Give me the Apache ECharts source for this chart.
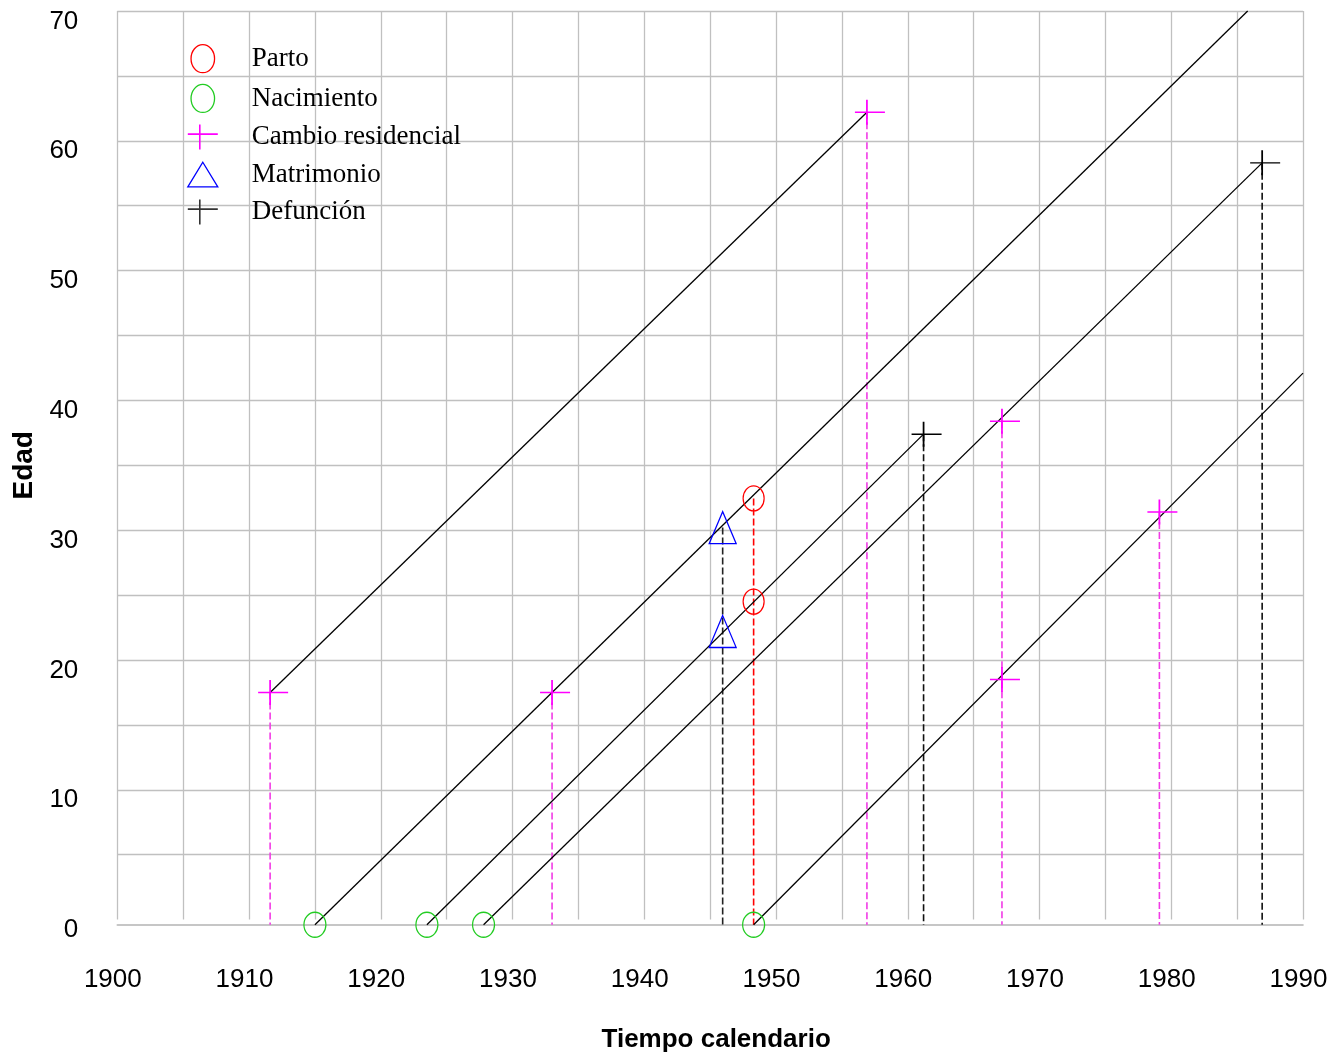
<!DOCTYPE html>
<html>
<head>
<meta charset="utf-8">
<script src="https://cdn.jsdelivr.net/npm/echarts@6/dist/echarts.min.js"></script>
<style>
html,body{margin:0;padding:0;background:#fff;}
#c{width:1332px;height:1057px;}
</style>
</head>
<body>
<div id="c"></div>
<script>
// ---- data ----
const xTickLabels = [1900, 1910, 1920, 1930, 1940, 1950, 1960, 1970, 1980, 1990];
const yTickLabels = [0, 10, 20, 30, 40, 50, 60, 70];
const birthAge = -0.4;              // births sit on the drawn time axis
// life lines: [start year, start age, end year, end age]
const lifelines = [
  [1911.6, 17.5, 1956.9, 62.2],
  [1915.0, birthAge, 1985.8, 70],
  [1923.5, birthAge, 1961.2, 37.4],
  [1927.8, birthAge, 1986.9, 58.3],
  [1948.3, birthAge, 1990.0, 42.1]
];
const parto      = [[1948.3, 32.45], [1948.3, 24.5]];
const nacimiento = [[1915.0, birthAge], [1923.5, birthAge], [1927.8, birthAge], [1948.3, birthAge]];
const cambio     = [[1911.6, 17.5], [1933.0, 17.5], [1956.9, 62.2], [1967.15, 38.4], [1967.15, 18.5], [1979.1, 31.4]];
const matrimonio = [[1945.95, 30.2], [1945.95, 22.2]];
const defuncion  = [[1961.2, 37.4], [1986.9, 58.3]];

// ---- symbols ----
const ellipsePath = 'path://M0,12.5 C0,5.6 4.7,0 10.5,0 C16.3,0 21,5.6 21,12.5 C21,19.4 16.3,25 10.5,25 C4.7,25 0,19.4 0,12.5 Z';
const plusPath = 'path://M0,12.5 L30,12.5 M12,0 L12,25';
const legendPlusPath = 'path://M0,9.5 L30,9.5 M12,0 L12,25';
const legendTriPath = 'path://M14,0 L28,23 L0,23 Z';

const RED = '#ff0000', GREEN = '#22cc22', MAG = '#ff00ff', MAGD = '#f23ce6', BLUE = '#0000ff', BLK = '#000000';

const series = [];
lifelines.forEach(l => {
  series.push({
    type: 'line', data: [[l[0], l[1]], [l[2], l[3]]], symbol: 'none', clip: false,
    lineStyle: {color: BLK, width: 1.3}, silent: true, z: 3, animation: false
  });
});
function drops(points, color) {
  const top = {};
  points.forEach(p => { if (top[p[0]] === undefined || p[1] > top[p[0]]) top[p[0]] = p[1]; });
  Object.keys(top).forEach(k => {
    const x = Number(k);
    series.push({
      type: 'line', data: [[x, top[k]], [x, birthAge]], symbol: 'none', clip: false,
      lineStyle: {color: color, width: 1.6, type: [7, 3]}, silent: true, z: 2, animation: false
    });
  });
}
drops(cambio, MAGD);
drops(matrimonio, '#222');
drops(parto, RED);
drops(defuncion, '#111');

function marks(name, data, symbol, size, color, bw, offset) {
  series.push({
    name: name, type: 'scatter', data: data, symbol: symbol, symbolSize: size,
    symbolKeepAspect: false, symbolOffset: offset || [0, 0], clip: false,
    itemStyle: {color: 'rgba(0,0,0,0)', borderColor: color, borderWidth: bw, opacity: 1},
    silent: true, z: 5, animation: false
  });
}
marks('Parto', parto, ellipsePath, [21, 25], RED, 1.3);
marks('Nacimiento', nacimiento, ellipsePath, [22, 25], GREEN, 1.3);
marks('Cambio residencial', cambio, plusPath, [30, 25], MAG, 1.6, [3, 0]);
marks('Matrimonio', matrimonio, 'triangle', [27, 32], BLUE, 1.3);
marks('Defunción', defuncion, plusPath, [30, 25], BLK, 1.6, [3, 0]);

const chart = echarts.init(document.getElementById('c'));
chart.setOption({
  animation: false,
  backgroundColor: '#ffffff',
  grid: {left: 117.3, right: 29, top: 11, bottom: 137.4, outerBoundsMode: 'none', containLabel: false},
  legend: {
    orient: 'vertical', left: 187, top: 44, padding: 0, itemWidth: 30, itemHeight: 28, itemGap: 10.5,
    selectedMode: false,
    textStyle: {fontFamily: 'Liberation Serif', fontSize: 27, color: '#000', padding: [0, 0, 0, 29]},
    data: [
      {name: 'Parto', icon: ellipsePath, itemStyle: {color: 'rgba(0,0,0,0)', borderColor: RED, borderWidth: 1.3}},
      {name: 'Nacimiento', icon: ellipsePath, itemStyle: {color: 'rgba(0,0,0,0)', borderColor: GREEN, borderWidth: 1.3}},
      {name: 'Cambio residencial', icon: legendPlusPath, itemStyle: {color: 'rgba(0,0,0,0)', borderColor: MAG, borderWidth: 1.6}},
      {name: 'Matrimonio', icon: legendTriPath, itemStyle: {color: 'rgba(0,0,0,0)', borderColor: BLUE, borderWidth: 1.3}},
      {name: 'Defunción', icon: legendPlusPath, itemStyle: {color: 'rgba(0,0,0,0)', borderColor: '#333', borderWidth: 1.6}}
    ]
  },
  xAxis: {
    type: 'value', min: 1900, max: 1990, interval: 5, offset: 5.4,
    axisLine: {show: true, onZero: false, lineStyle: {color: '#b4b4b4', width: 1.6}},
    axisTick: {show: false},
    splitLine: {show: true, lineStyle: {color: '#c0c0c0', width: 1.3}},
    axisLabel: {
      formatter: v => xTickLabels.indexOf(v) >= 0 ? String(v) : '',
      fontFamily: 'Liberation Sans', fontSize: 26, color: '#000', margin: 42, padding: [0, 9, 0, 0]
    },
    name: 'Tiempo calendario', nameLocation: 'middle', nameGap: 101.5,
    nameTextStyle: {fontFamily: 'Liberation Sans', fontWeight: 'bold', fontSize: 26, color: '#000', padding: [0, 0, 0, 12]}
  },
  yAxis: {
    type: 'value', min: 0, max: 70, interval: 5,
    axisLine: {show: false}, axisTick: {show: false},
    splitLine: {show: true, showMinLine: false, lineStyle: {color: '#c0c0c0', width: 1.3}},
    axisLabel: {
      formatter: v => yTickLabels.indexOf(v) >= 0 ? String(v) : '',
      fontFamily: 'Liberation Sans', fontSize: 26, color: '#000', margin: 39,
      verticalAlign: 'top', lineHeight: 21
    },
    name: 'Edad', nameLocation: 'middle', nameGap: 71, nameRotate: 90,
    nameTextStyle: {fontFamily: 'Liberation Sans', fontWeight: 'bold', fontSize: 28, color: '#000'}
  },
  series: series
});
</script>
</body>
</html>
